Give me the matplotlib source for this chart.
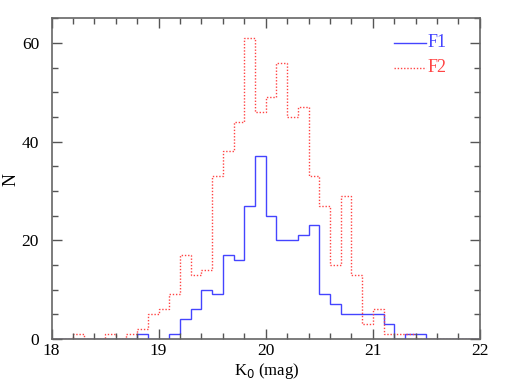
import matplotlib
matplotlib.use("Agg")
import matplotlib.pyplot as plt
from matplotlib.ticker import MultipleLocator
import numpy as np

# histogram bins: 18.0 .. 22.0 in steps of 0.1 mag
bin_lo = 18.0
bin_hi = 22.0
n_bins = 40

f1_counts = [0, 0, 0, 0, 0, 0, 0, 0, 1, 0,
             0, 1, 4, 6, 10, 9, 17, 16, 27, 37,
             25, 20, 20, 21, 23, 9, 7, 5, 5, 5,
             5, 3, 0, 1, 1, 0, 0, 0, 0, 0]
f2_counts = [0, 0, 1, 0, 0, 1, 0, 1, 2, 5,
             6, 9, 17, 13, 14, 33, 38, 44, 61, 46,
             49, 56, 45, 47, 33, 27, 15, 29, 13, 3,
             6, 1, 1, 1, 0, 0, 0, 0, 0, 0]

labels = ["F1", "F2"]
blue = "#4444ff"
red = "#ff4444"

plt.rcParams["font.family"] = ["Liberation Serif", "DejaVu Serif"]

edges = np.linspace(bin_lo, bin_hi, n_bins + 1)

fig = plt.figure(figsize=(5.1, 3.82), dpi=100)
ax = fig.add_axes([0.101, 0.113, 0.840, 0.839])

ax.stairs(f1_counts, edges, color=blue, lw=1.0)
ax.stairs(f2_counts, edges, color=red, lw=1.0, linestyle=(0, (1, 1.3)))

# legend drawn by hand, SM style
ax.plot([21.2, 21.5], [60, 60], color=blue, lw=1.0)
ax.text(21.51, 60, labels[0], color=blue, fontsize=13, va="center", ha="left")
ax.plot([21.2, 21.5], [55, 55], color=red, lw=1.0, linestyle=(0, (1, 1.3)))
ax.text(21.51, 55, labels[1], color=red, fontsize=13, va="center", ha="left")

ax.set_xlim(18, 22)
ax.set_ylim(0, 65)
ax.xaxis.set_major_locator(MultipleLocator(1))
ax.xaxis.set_minor_locator(MultipleLocator(0.2))
ax.yaxis.set_major_locator(MultipleLocator(20))
ax.yaxis.set_minor_locator(MultipleLocator(5))
ax.tick_params(which="both", direction="in", top=True, right=True,
               color="#555555", labelsize=12.5)
ax.tick_params(axis="x", pad=3)
ax.tick_params(axis="y", pad=9)
ax.tick_params(which="major", length=7, width=1)
ax.tick_params(which="minor", length=4, width=1)
for s in ax.spines.values():
    s.set_color("#666666")
    s.set_linewidth(1.2)

fig.text(0.522, 0.029, r"K$_0$ (mag)", fontsize=12, ha="center", va="center")
fig.text(0.022, 0.531, "N", fontsize=13, ha="center", va="center", rotation=90)

fig.savefig("out.png", dpi=100)
